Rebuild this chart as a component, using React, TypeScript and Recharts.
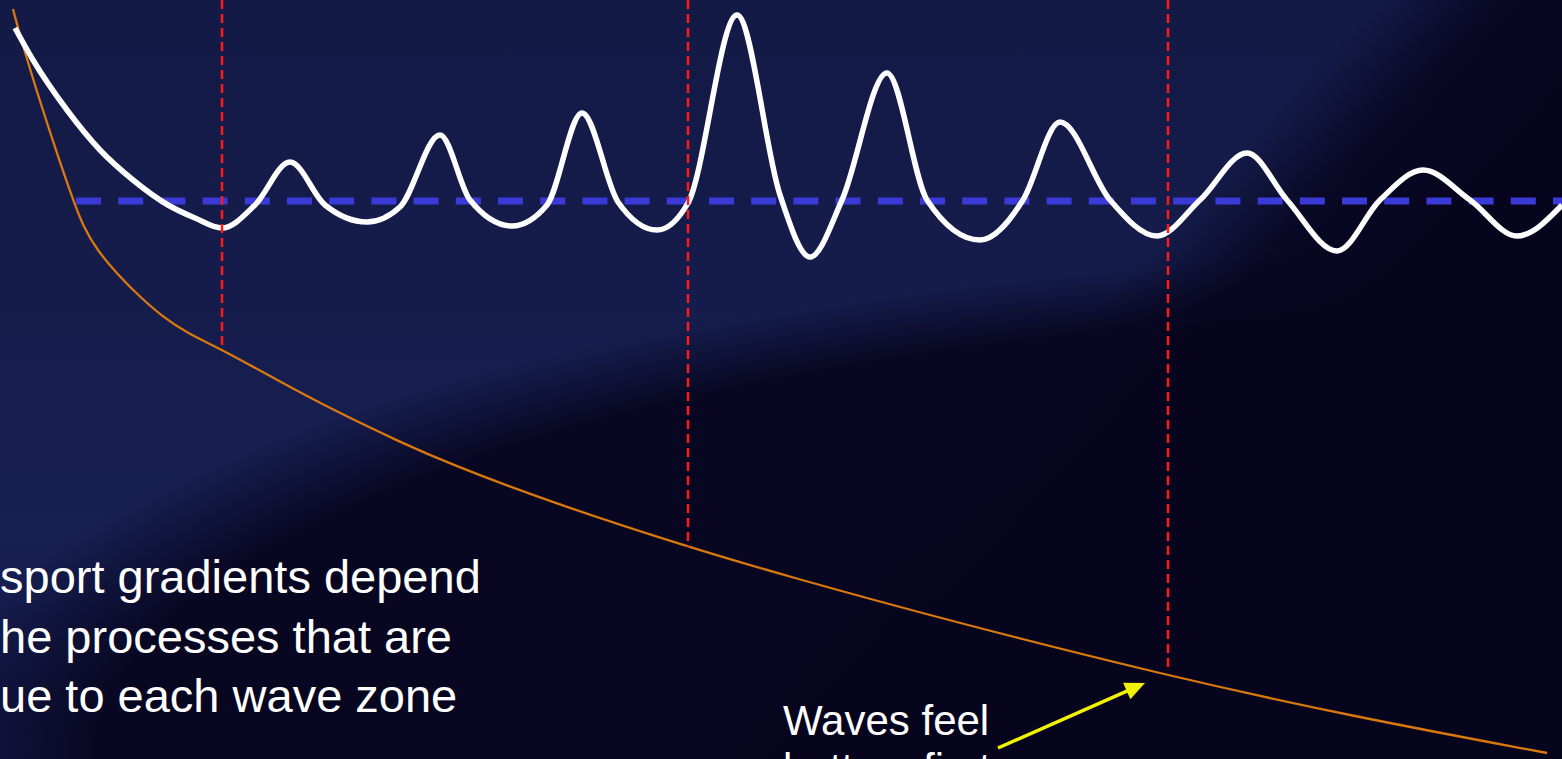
import React from 'react';
import { ComposedChart, Line, XAxis, YAxis, ReferenceLine, Customized } from 'recharts';

const CHART_W = 1562;
const CHART_H = 759;

// cross-shore distance (m) and water-surface elevation (relative to mean water level)
const waveX = [1.5, 3.3, 6.7, 10.0, 13.3, 16.8, 19.5, 22.2, 25.5, 29.0, 32.5, 36.7, 40.0, 44.0, 47.0, 51.2, 54.7, 58.2, 61.8, 65.7, 68.8, 73.7, 78.0, 81.0, 84.2, 88.7, 92.7, 98.0, 102.3, 106.0, 111.0, 115.7, 120.0, 124.7, 128.7, 133.7, 138.0, 142.3, 147.0, 151.7, 156.2];
const waveY = [17.3, 14.1, 9.1, 5.1, 2.1, -0.4, -1.7, -2.7, -0.4, 3.9, -0.4, -2.1, -0.6, 6.6, 0.1, -2.5, -0.4, 8.8, -0.1, -2.9, -0.2, 18.6, 0.6, -5.6, 0.1, 12.8, 0.1, -3.9, 0.1, 7.9, 0.1, -3.5, 0.1, 4.8, 0.1, -5.0, 0.1, 3.1, 0.1, -3.5, -0.4];

// bed profile
const bedX = [1.3, 2.3, 5.0, 7.3, 8.3, 9.7, 11.7, 14.0, 16.3, 18.7, 22.3, 27.7, 33.3, 40.0, 45.0, 55.0, 68.8, 78.3, 95.0, 116.8, 135.0, 154.7];
const bedY = [19.2, 15.4, 6.8, 0.1, -2.5, -4.9, -7.3, -9.6, -11.6, -13.2, -14.9, -17.9, -20.9, -24.1, -26.3, -30.1, -34.6, -37.4, -42.0, -47.5, -51.5, -55.2];

// mean water level
const meanLevel = 0;
const meanLevelFrom = 7.6;
const meanLevelTo = 156.2;

// wave zone boundaries and the bed elevation where they end
const zoneX = [22.2, 68.8, 116.8];
const zoneBed = [-14.9, -34.6, -46.9];

// annotation arrow
const arrowFrom = { x: 99.8, y: -54.7 };
const arrowTo = { x: 114.5, y: -48.2 };

const xDomain = [0, 156.2];
const yDomain = [-55.8, 20.1];

const captionLines = ['sport gradients depend', 'he processes that are', 'ue to each wave zone'];
const noteLines = ['Waves feel', 'bottom first'];

const waveData = waveX.map((x, i) => ({ x, y: waveY[i] }));
const bedData = bedX.map((x, i) => ({ x, y: bedY[i] }));
const zoneData = zoneX.map((x, i) => [
  { x, y: yDomain[1] },
  { x, y: zoneBed[i] },
]);

const FONT = '"Liberation Sans", Arial, Helvetica, sans-serif';

const Arrow = (p: any) => {
  const { x1, y1, x2, y2 } = p;
  const dx = x2 - x1;
  const dy = y2 - y1;
  const len = Math.hypot(dx, dy) || 1;
  const ux = dx / len;
  const uy = dy / len;
  const hl = 20;
  const hw = 9;
  const bx = x2 - ux * hl;
  const by = y2 - uy * hl;
  return (
    <g>
      <line x1={x1} y1={y1} x2={bx + ux * 2} y2={by + uy * 2} stroke="#f2f200" strokeWidth={3.5} />
      <polygon
        points={`${x2},${y2} ${bx - uy * hw},${by + ux * hw} ${bx + uy * hw},${by - ux * hw}`}
        fill="#f2f200"
      />
    </g>
  );
};

const Texts = () => (
  <g fontFamily={FONT} fill="#ffffff">
    {captionLines.map((t, i) => (
      <text key={t} x={0} y={593 + i * 59.5} fontSize={47}>
        {t}
      </text>
    ))}
    {noteLines.map((t, i) => (
      <text key={t} x={783} y={735 + i * 48} fontSize={42}>
        {t}
      </text>
    ))}
  </g>
);

const DARK = '7,5,30';

export default function App() {
  return (
    <div
      style={{
        position: 'fixed',
        left: 0,
        top: 0,
        width: CHART_W,
        height: CHART_H,
        overflow: 'hidden',
        background: [
          `linear-gradient(132.6deg, rgba(${DARK},0) 61%, rgba(${DARK},0.85) 66.5%, rgba(${DARK},1) 73%)`,
          `radial-gradient(ellipse 1690px 520px at 1562px 759px, rgba(${DARK},1) 0%, rgba(${DARK},0.95) 86%, rgba(${DARK},0) 98%)`,
          'linear-gradient(180deg, #131a46 0%, #151c4b 35%, #172053 70%, #151b4c 100%)',
        ].join(', '),
      }}
    >
      <ComposedChart
        width={CHART_W}
        height={CHART_H}
        margin={{ top: 0, right: 0, bottom: 0, left: 0 }}
      >
        <XAxis dataKey="x" type="number" domain={xDomain} hide allowDataOverflow />
        <YAxis type="number" domain={yDomain} hide allowDataOverflow />
        <Line
          data={bedData}
          dataKey="y"
          type="basis"
          stroke="#d9780f"
          strokeWidth={2.3}
          dot={false}
          activeDot={false}
          isAnimationActive={false}
        />
        <ReferenceLine
          segment={[
            { x: meanLevelFrom, y: meanLevel },
            { x: meanLevelTo, y: meanLevel },
          ]}
          stroke="#3a3ad6"
          strokeWidth={7}
          strokeDasharray="25 17.2"
          ifOverflow="visible"
        />
        <Line
          data={waveData}
          dataKey="y"
          type="monotone"
          stroke="#ffffff"
          strokeWidth={5.5}
          dot={false}
          activeDot={false}
          isAnimationActive={false}
        />
        {zoneData.map((d, i) => (
          <Line
            key={i}
            data={d}
            dataKey="y"
            type="linear"
            stroke="#ff1a1a"
            strokeWidth={2.5}
            strokeDasharray="9 5"
            dot={false}
            activeDot={false}
            isAnimationActive={false}
          />
        ))}
        <ReferenceLine segment={[arrowFrom, arrowTo]} shape={Arrow} ifOverflow="visible" />
        <Customized component={Texts} />
      </ComposedChart>
    </div>
  );
}
